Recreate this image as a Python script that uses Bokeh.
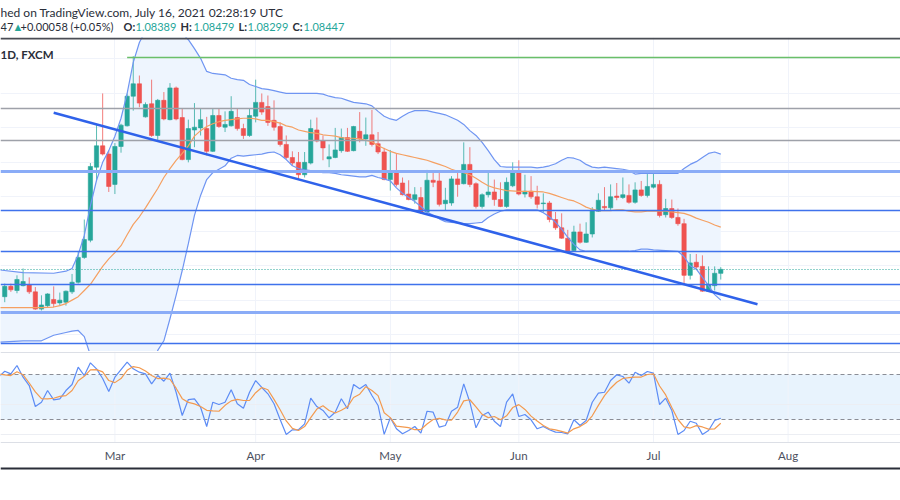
from bokeh.plotting import figure
from bokeh.models import Range1d, Label, ColumnDataSource
from bokeh.layouts import column
from bokeh.embed import file_html
from bokeh.resources import INLINE
from bokeh.core.properties import value

# ---------------- data (EUR/CHF daily, FXCM) ----------------
first_bar = 2  # bar index of the first candle (bar 0 = 1 Feb 2021)
candle_open = [1.0805, 1.0820, 1.0814, 1.0821, 1.0822, 1.0812, 1.0787, 1.0792, 1.0801, 1.0796,
               1.0797, 1.0812, 1.0826, 1.0862, 1.0887, 1.0993, 1.1024, 1.1012, 1.0968, 1.1023,
               1.1053, 1.1096, 1.1114, 1.1066, 1.1085, 1.1039, 1.1090, 1.1062, 1.1108, 1.1065,
               1.1004, 1.1047, 1.1050, 1.1049, 1.1016, 1.1068, 1.1051, 1.1053, 1.1065, 1.1049,
               1.1039, 1.1067, 1.1087, 1.1081, 1.1061, 1.1052, 1.1026, 1.1007, 1.1000, 1.0982,
               1.0999, 1.1047, 1.1031, 1.1005, 1.1007, 1.1017, 1.1036, 1.1017, 1.1045, 1.1034,
               1.1040, 1.1027, 1.1015, 1.0975, 1.0987, 1.0970, 1.0954, 1.0946, 1.0949, 1.0928,
               1.0974, 1.0973, 1.0940, 1.0941, 1.0976, 1.0969, 1.0997, 1.0969, 1.0936, 1.0953,
               1.0957, 1.0946, 1.0936, 1.0966, 1.0987, 1.0954, 1.0958, 1.0950, 1.0940, 1.0941,
               1.0917, 1.0905, 1.0890, 1.0872, 1.0899, 1.0884, 1.0896, 1.0929, 1.0936, 1.0934,
               1.0951, 1.0949, 1.0952, 1.0942, 1.0960, 1.0952, 1.0964, 1.0968, 1.0924, 1.0933,
               1.0920, 1.0911, 1.0836, 1.0855, 1.0849, 1.0813, 1.0821, 1.08389]
candle_high = [1.0824, 1.0824, 1.0836, 1.0846, 1.0833, 1.0819, 1.0807, 1.0810, 1.0820, 1.0811,
               1.0814, 1.0838, 1.0870, 1.0917, 1.0999, 1.1055, 1.1100, 1.1017, 1.1028, 1.1056,
               1.1100, 1.1154, 1.1126, 1.1087, 1.1120, 1.1092, 1.1102, 1.1115, 1.1110, 1.1078,
               1.1062, 1.1086, 1.1078, 1.1066, 1.1078, 1.1078, 1.1074, 1.1096, 1.1078, 1.1056,
               1.1078, 1.1120, 1.1100, 1.1097, 1.1090, 1.1058, 1.1039, 1.1016, 1.1015, 1.1015,
               1.1062, 1.1065, 1.1039, 1.1026, 1.1050, 1.1049, 1.1050, 1.1053, 1.1073, 1.1065,
               1.1076, 1.1044, 1.1021, 1.1018, 1.1012, 1.0978, 1.0974, 1.0964, 1.0964, 1.0989,
               1.0986, 1.0986, 1.0963, 1.0980, 1.0987, 1.1029, 1.1022, 1.0971, 1.0955, 1.0986,
               1.0975, 1.0971, 1.0978, 1.1000, 1.1003, 1.0982, 1.0980, 1.0966, 1.0955, 1.0944,
               1.0928, 1.0926, 1.0902, 1.0908, 1.0911, 1.0913, 1.0935, 1.0955, 1.0964, 1.0968,
               1.0970, 1.0978, 1.0968, 1.0971, 1.0973, 1.0983, 1.0986, 1.0974, 1.0947, 1.0946,
               1.0933, 1.0918, 1.0867, 1.0867, 1.0865, 1.0849, 1.0849, 1.08479]
candle_low = [1.0797, 1.0812, 1.0810, 1.0820, 1.0809, 1.0786, 1.0785, 1.0790, 1.0790, 1.0792,
              1.0792, 1.0809, 1.0824, 1.0860, 1.0884, 1.0974, 1.1010, 1.0957, 1.0954, 1.1014,
              1.1052, 1.1075, 1.1080, 1.1065, 1.1037, 1.1032, 1.1061, 1.1061, 1.1061, 1.1003,
              1.1000, 1.1022, 1.1039, 1.1010, 1.1015, 1.1050, 1.1044, 1.1052, 1.1046, 1.1034,
              1.1037, 1.1058, 1.1069, 1.1053, 1.1046, 1.1023, 1.1005, 1.0995, 1.0976, 1.0978,
              1.0997, 1.1029, 1.1003, 1.0993, 1.1006, 1.1014, 1.1015, 1.1016, 1.1029, 1.1024,
              1.1023, 1.1012, 1.0974, 1.0959, 1.0965, 1.0952, 1.0945, 1.0940, 1.0925, 1.0926,
              1.0964, 1.0936, 1.0930, 1.0937, 1.0950, 1.0968, 1.0964, 1.0933, 1.0933, 1.0949,
              1.0937, 1.0935, 1.0934, 1.0964, 1.0952, 1.0949, 1.0947, 1.0933, 1.0928, 1.0913,
              1.0902, 1.0889, 1.0870, 1.0870, 1.0882, 1.0883, 1.0891, 1.0928, 1.0930, 1.0931,
              1.0945, 1.0947, 1.0940, 1.0940, 1.0950, 1.0949, 1.0962, 1.0920, 1.0920, 1.0918,
              1.0908, 1.0823, 1.0830, 1.0844, 1.0812, 1.0812, 1.0814, 1.08299]
candle_close = [1.0820, 1.0815, 1.0830, 1.0827, 1.0812, 1.0787, 1.0793, 1.0809, 1.0795, 1.0800,
                1.0813, 1.0826, 1.0862, 1.0888, 1.0994, 1.1024, 1.1012, 1.0965, 1.1023, 1.1054,
                1.1096, 1.1114, 1.1086, 1.1084, 1.1039, 1.1090, 1.1063, 1.1108, 1.1063, 1.1004,
                1.1049, 1.1051, 1.1062, 1.1016, 1.1068, 1.1052, 1.1055, 1.1074, 1.1049, 1.1039,
                1.1068, 1.1087, 1.1073, 1.1058, 1.1051, 1.1026, 1.1007, 1.0999, 1.0982, 1.1000,
                1.1049, 1.1031, 1.1021, 1.1008, 1.1018, 1.1036, 1.1016, 1.1052, 1.1034, 1.1040,
                1.1026, 1.1015, 1.0975, 1.0987, 1.0968, 1.0953, 1.0946, 1.0953, 1.0928, 1.0974,
                1.0971, 1.0939, 1.0945, 1.0976, 1.0968, 1.0997, 1.0968, 1.0936, 1.0953, 1.0957,
                1.0946, 1.0936, 1.0971, 1.0987, 1.0954, 1.0958, 1.0950, 1.0939, 1.0941, 1.0917,
                1.0905, 1.0890, 1.0871, 1.0899, 1.0884, 1.0896, 1.0931, 1.0945, 1.0934, 1.0950,
                1.0949, 1.0953, 1.0942, 1.0960, 1.0952, 1.0965, 1.0968, 1.0923, 1.0933, 1.0920,
                1.0911, 1.0836, 1.0854, 1.0848, 1.0813, 1.0822, 1.0839, 1.08447]

# Bollinger Bands (bar index, price)
bb_upper = [(1, 1.0844), (5, 1.0840), (10, 1.0839), (12, 1.0842), (13, 1.0846), (14, 1.0866),
            (15, 1.0894), (16, 1.0937), (17, 1.0974), (18, 1.1000), (19, 1.1017), (20, 1.1038),
            (21, 1.1064), (22, 1.1100), (23, 1.1145), (24, 1.1174), (25, 1.1191), (26, 1.1203),
            (27, 1.1209), (28, 1.1210), (29, 1.1206), (30, 1.1196), (31, 1.1187), (32, 1.1178),
            (33, 1.1165), (34, 1.1151), (35, 1.1132), (36, 1.1129), (37, 1.1128), (38, 1.1127),
            (39, 1.1122), (40, 1.1120), (41, 1.1119), (42, 1.1113), (43, 1.1110), (44, 1.1107),
            (45, 1.1106), (46, 1.1104), (47, 1.1102), (48, 1.1100), (50, 1.1100), (52, 1.1100),
            (53, 1.1100), (54, 1.1099), (55, 1.1096), (56, 1.1094), (57, 1.1093), (58, 1.1090),
            (59, 1.1087), (60, 1.1086), (61, 1.1085), (62, 1.1082), (63, 1.1074), (64, 1.1067),
            (65, 1.1063), (66, 1.1061), (67, 1.1067), (68, 1.1072), (69, 1.1075), (70, 1.1075),
            (71, 1.1075), (72, 1.1073), (73, 1.1071), (74, 1.1069), (75, 1.1065), (76, 1.1061),
            (77, 1.1055), (78, 1.1046), (79, 1.1039), (80, 1.1029), (81, 1.1017), (82, 1.1004),
            (83, 1.0994), (84, 1.0993), (86, 1.0993), (88, 1.0993), (89, 1.0992), (90, 1.0993),
            (91, 1.0995), (92, 1.0998), (93, 1.1003), (94, 1.1007), (95, 1.1006), (96, 1.1003),
            (97, 1.0997), (98, 1.0993), (99, 1.0992), (100, 1.0993), (102, 1.0991), (103, 1.0990),
            (104, 1.0988), (105, 1.0983), (106, 1.0984), (108, 1.0984), (110, 1.0984), (112, 1.0984),
            (113, 1.0991), (114, 1.0997), (115, 1.1001), (116, 1.1007), (117, 1.1013), (118, 1.1015),
            (119, 1.1012)]
bb_basis = [(1, 1.0789), (5, 1.0789), (8, 1.0789), (10, 1.0790), (11, 1.0792), (12, 1.0795),
            (13, 1.0800), (14, 1.0805), (15, 1.0814), (16, 1.0823), (17, 1.0836), (18, 1.0849),
            (19, 1.0860), (20, 1.0869), (21, 1.0879), (22, 1.0895), (23, 1.0910), (24, 1.0921),
            (25, 1.0934), (26, 1.0948), (27, 1.0962), (28, 1.0978), (29, 1.0991), (30, 1.1003),
            (31, 1.1013), (32, 1.1024), (33, 1.1038), (34, 1.1046), (35, 1.1052), (36, 1.1056),
            (37, 1.1059), (38, 1.1061), (39, 1.1062), (40, 1.1063), (41, 1.1064), (42, 1.1064),
            (43, 1.1063), (44, 1.1061), (45, 1.1061), (46, 1.1059), (47, 1.1057), (48, 1.1053),
            (49, 1.1051), (50, 1.1047), (51, 1.1045), (52, 1.1043), (53, 1.1042), (54, 1.1040),
            (55, 1.1039), (56, 1.1038), (57, 1.1036), (58, 1.1035), (59, 1.1035), (60, 1.1034),
            (61, 1.1032), (62, 1.1030), (63, 1.1024), (64, 1.1020), (65, 1.1016), (66, 1.1013),
            (67, 1.1011), (68, 1.1009), (69, 1.1007), (70, 1.1005), (71, 1.1003), (72, 1.1000),
            (73, 1.0997), (74, 1.0994), (75, 1.0990), (76, 1.0987), (77, 1.0985), (78, 1.0982),
            (79, 1.0977), (80, 1.0971), (81, 1.0966), (82, 1.0963), (83, 1.0961), (84, 1.0959),
            (86, 1.0958), (88, 1.0958), (90, 1.0957), (91, 1.0955), (92, 1.0952), (93, 1.0949),
            (94, 1.0946), (95, 1.0944), (96, 1.0940), (97, 1.0935), (98, 1.0932), (99, 1.0930),
            (101, 1.0930), (102, 1.0931), (103, 1.0931), (104, 1.0929), (105, 1.0928), (106, 1.0928),
            (107, 1.0929), (109, 1.0929), (110, 1.0929), (111, 1.0928), (112, 1.0927), (113, 1.0926),
            (114, 1.0923), (115, 1.0919), (116, 1.0916), (117, 1.0913), (118, 1.0909), (119, 1.0906)]
bb_lower = [(1, 1.0739), (5, 1.0741), (8, 1.0741), (10, 1.0749), (12, 1.0753), (13, 1.0755),
            (14, 1.0756), (15, 1.0747), (16, 1.0720), (17, 1.0691), (18, 1.0669), (19, 1.0654),
            (20, 1.0643), (21, 1.0637), (22, 1.0633), (23, 1.0640), (24, 1.0654), (25, 1.0676),
            (26, 1.0705), (27, 1.0727), (28, 1.0741), (29, 1.0773), (30, 1.0807), (31, 1.0843),
            (32, 1.0882), (33, 1.0923), (34, 1.0952), (35, 1.0975), (36, 1.0985), (37, 1.0990),
            (38, 1.0995), (39, 1.1006), (40, 1.1010), (41, 1.1009), (42, 1.1010), (43, 1.1011),
            (44, 1.1012), (45, 1.1014), (46, 1.1015), (47, 1.1011), (48, 1.1004), (49, 1.0995),
            (50, 1.0991), (51, 1.0989), (52, 1.0988), (53, 1.0987), (54, 1.0985), (55, 1.0985),
            (56, 1.0984), (57, 1.0982), (58, 1.0981), (59, 1.0980), (60, 1.0979), (61, 1.0979),
            (62, 1.0981), (63, 1.0978), (64, 1.0976), (65, 1.0973), (66, 1.0963), (67, 1.0955),
            (68, 1.0949), (69, 1.0943), (70, 1.0936), (71, 1.0928), (72, 1.0923), (73, 1.0918),
            (74, 1.0914), (75, 1.0913), (76, 1.0912), (77, 1.0911), (78, 1.0911), (79, 1.0912),
            (80, 1.0913), (81, 1.0920), (82, 1.0925), (83, 1.0929), (84, 1.0931), (89, 1.0931),
            (90, 1.0927), (91, 1.0921), (92, 1.0913), (93, 1.0903), (94, 1.0891), (95, 1.0881),
            (96, 1.0873), (97, 1.0871), (104, 1.0871), (105, 1.0872), (106, 1.0874), (107, 1.0874),
            (108, 1.0873), (110, 1.0872), (112, 1.0871), (113, 1.0863), (114, 1.0850), (115, 1.0845),
            (116, 1.0833), (117, 1.0821), (118, 1.0808), (119, 1.0800)]

# Stochastic RSI, bars 1..119
stoch_first_bar = 1
stoch_k = [77, 84.8, 81.3, 92.5, 76.8, 65.6, 37.4, 43.2, 58.9, 46.4,
           47.8, 58.9, 67, 90.2, 79, 96.1, 88, 75, 57.6, 76.8,
           87, 96.9, 88, 83.5, 81.3, 67.9, 79, 71.4, 82.2, 56.6,
           25.4, 46.8, 47.8, 36.5, 10.6, 43.2, 40.1, 43.2, 59.9, 41.1,
           35.2, 56.6, 72.3, 63, 54.5, 41.1, 20, 0, 6.2, 6.2,
           14.2, 48.6, 37.4, 32.1, 22.3, 29.8, 47.8, 34.4, 67, 61.2,
           67, 52.2, 38.8, 0, 22.3, 7.5, 0.8, 5.2, 10.6, 1.6,
           31.1, 29.8, 9.7, 11.9, 31.1, 36.5, 67.9, 43.2, 8.9, 25.4,
           29.8, 17.7, 10.6, 43.2, 54.5, 24, 26.7, 19.6, 7.5, 10.6,
           6.2, 3, 2.6, 0.8, 19.6, 11.9, 18.7, 43.2, 55.3, 56.6,
           72.3, 80, 77.7, 68.7, 83.5, 79, 84.4, 82.2, 40.1, 48.6,
           32.1, 0, 5.2, 17.7, 15, 0, 5.2, 18.7, 21.7]
stoch_d = [81, 80, 79, 84, 80, 69, 57, 48, 47.8, 48.5,
           51, 52, 59, 72, 78, 86.7, 87, 84, 72.3, 69.5,
           75, 86, 91, 89.5, 85, 79, 75, 75.5, 74, 62,
           48, 43, 41, 37.4, 32.3, 31.5, 31.1, 39, 45, 47,
           45.5, 45.5, 56, 63, 60, 47, 33, 18, 8, 5.3,
           10.5, 22.5, 34, 38.5, 32, 28.7, 32.5, 37, 49.5, 54,
           64, 59, 52, 29, 22.5, 11, 10, 9, 6.3, 6.5,
           14, 20, 21.5, 19.5, 19, 30, 45, 46.5, 37, 27,
           22.5, 24, 19.6, 25, 36, 40, 33.5, 24.5, 18, 12,
           7.5, 6, 4, 1.8, 7.5, 10.5, 15.5, 25, 39, 52,
           62, 70, 75, 76.2, 76.8, 77, 80.4, 81.3, 65, 53,
           36, 20, 10, 8.5, 11.8, 10, 7, 7.5, 15]
stoch_upper_band = 80
stoch_lower_band = 20
stoch_grid = [0, 40]

# drawings
level_blue = [1.0930, 1.0871, 1.0822, 1.0737]
level_blue_thick = [1.0987, 1.0782]
level_gray = [1.1078, 1.1032]
level_green = 1.1152
level_green_start_bar = 22
trend_bars = [10, 125]
trend_prices = [1.1072, 1.0794]

price_grid = [1.075, 1.080, 1.085, 1.090, 1.095, 1.100, 1.105, 1.110, 1.115]
month_bars = [20, 43, 65, 86, 108, 130]
month_labels = ["Mar", "Apr", "May", "Jun", "Jul", "Aug"]

header_line1 = "hed on TradingView.com, July 16, 2021 02:28:19 UTC"
symbol_text = "1D, FXCM"

# ---------------- layout ----------------
W = 900
x_rng = Range1d(1.3072, 148.366)
GREEN = "#26a69a"
RED = "#ef5350"
GRID = "#f0f3fa"
DARK = "#2a2e39"
FONT = "Lato"

# screen geometry of the panes (pixels) -> value ranges
PRICE_TOP, PRICE_BOTTOM = 1.118120, 1.072546        # page y 37 .. 351
OSC_TOP, OSC_BOTTOM = 111.28, -48.46                # page y 351 .. 470 (0.745 px per unit)
OSC_AXIS = -10.87                                   # page y 442 (bottom of the oscillator)
OSC_LABEL_Y = -28.3                                 # page y 455
OSC_RULE = -45.9                                    # page y 468
PRICE_RULE = 1.117975                               # page y 38


def base_fig(height, x_range, y_range):
    p = figure(width=W, height=height, x_range=x_range, y_range=y_range,
               output_backend="svg", toolbar_location=None, title=None,
               min_border=0, x_axis_location=None, y_axis_location=None)
    for g in p.grid:
        g.visible = False
    p.outline_line_color = None
    p.background_fill_color = "white"
    p.border_fill_color = "white"
    return p


# header
ph = base_fig(37, Range1d(0, W), Range1d(0, 37))
ph.add_layout(Label(x=0, y=25.5, text=header_line1, text_font=FONT, text_font_size="12px",
                    text_color=DARK, text_baseline="middle"))
pieces = [
    (0, "47", DARK, "normal"),
    (12, "\u25b2", GREEN, "normal"),
    (20, "+0.00058 (+0.05%)", DARK, "normal"),
    (123, "O:", DARK, "bold"),
    (135, f"{candle_open[-1]:.5f}", GREEN, "normal"),
    (180, "H:", DARK, "bold"),
    (193, f"{candle_high[-1]:.5f}", GREEN, "normal"),
    (238, "L:", DARK, "bold"),
    (247, f"{candle_low[-1]:.5f}", GREEN, "normal"),
    (292, "C:", DARK, "bold"),
    (303, f"{candle_close[-1]:.5f}", GREEN, "normal"),
]
for px, txt, col, style in pieces:
    ph.add_layout(Label(x=px, y=11, text=txt, text_font=FONT, text_font_size="11px",
                        text_color=col, text_font_style=style, text_baseline="middle"))

# price pane
pp = base_fig(314, x_rng, Range1d(PRICE_BOTTOM, PRICE_TOP))
pp.vspan(x=month_bars, line_color=GRID, line_width=1)
pp.hspan(y=price_grid, line_color=GRID, line_width=1)

up_x = [b for b, _ in bb_upper]
up_y = [v for _, v in bb_upper]
lo_x = [b for b, _ in bb_lower]
lo_y = [v for _, v in bb_lower]
pp.patch(up_x + lo_x[::-1], up_y + lo_y[::-1], fill_color="#eef5fe", line_color=None)

bars = list(range(first_bar, first_bar + len(candle_open)))
colors = [GREEN if c >= o else RED for o, c in zip(candle_open, candle_close)]
src = ColumnDataSource(dict(
    x=bars, o=candle_open, h=candle_high, l=candle_low, c=candle_close,
    top=[max(o, c) for o, c in zip(candle_open, candle_close)],
    bot=[min(o, c) for o, c in zip(candle_open, candle_close)],
    col=colors))
pp.segment(x0="x", y0="l", x1="x", y1="h", source=src, line_color="col", line_width=1, line_alpha=0.75)
pp.vbar(x="x", width=0.7, top="top", bottom="bot", source=src, fill_color="col", line_color="col",
        line_width=0.6)

pp.line(up_x, up_y, line_color="#6f95f2", line_width=1.2)
pp.line(lo_x, lo_y, line_color="#6f95f2", line_width=1.2)
pp.line([b for b, _ in bb_basis], [v for _, v in bb_basis], line_color="#f5a062", line_width=1.2)

pp.hspan(y=level_gray, line_color="#9ea1a9", line_width=1.3)
pp.hspan(y=level_blue_thick, line_color="#8aacf7", line_width=3)
pp.hspan(y=level_blue, line_color="#3f72ec", line_width=1.3)
pp.ray(x=[level_green_start_bar], y=[level_green], length=0, angle=0,
       line_color="#6abf69", line_width=1.5)
pp.hspan(y=[candle_close[-1]], line_color=GREEN, line_dash="1 2", line_width=1)
pp.line(trend_bars, trend_prices, line_color="#2f62ea", line_width=2.5)
pp.hspan(y=[PRICE_RULE], line_color="#4a4d55", line_width=2)

pp.add_layout(Label(x=0, y=297, x_units="screen", y_units="screen", text=symbol_text,
                    text_font=FONT, text_font_size="11.5px", text_font_style="bold",
                    text_color=DARK, text_baseline="middle"))

# oscillator pane (with its date scale drawn inside the same frame)
po = base_fig(119, x_rng, Range1d(OSC_BOTTOM, OSC_TOP))
po.hstrip(y0=[stoch_lower_band], y1=[stoch_upper_band], fill_color="#e8f3fd", line_color=None)
po.segment(x0=month_bars, y0=[OSC_AXIS] * len(month_bars), x1=month_bars,
           y1=[OSC_TOP] * len(month_bars), line_color=GRID, line_width=1)
po.hspan(y=stoch_grid, line_color="#eceef3", line_width=1)
po.hspan(y=[110.4], line_color="#dcdfe6", line_width=1)
po.hspan(y=[stoch_upper_band, stoch_lower_band], line_color="#8a8d96", line_dash="4 3", line_width=1)
sx = list(range(stoch_first_bar, stoch_first_bar + len(stoch_k)))
po.line(sx, stoch_k, line_color="#5d8cf5", line_width=1.2)
po.line(sx, stoch_d, line_color="#f39a4f", line_width=1.2)
po.hspan(y=[OSC_AXIS], line_color="#dcdfe6", line_width=1)
po.text(x=month_bars, y=[OSC_LABEL_Y] * len(month_bars), text=month_labels,
        text_font=value(FONT), text_font_size="11.5px", text_color="#4c5060",
        text_align="center", text_baseline="middle")
po.hspan(y=[OSC_RULE], line_color=DARK, line_width=2)

layout = column(ph, pp, po, spacing=0)
open("out.html", "w").write(file_html(layout, INLINE))
